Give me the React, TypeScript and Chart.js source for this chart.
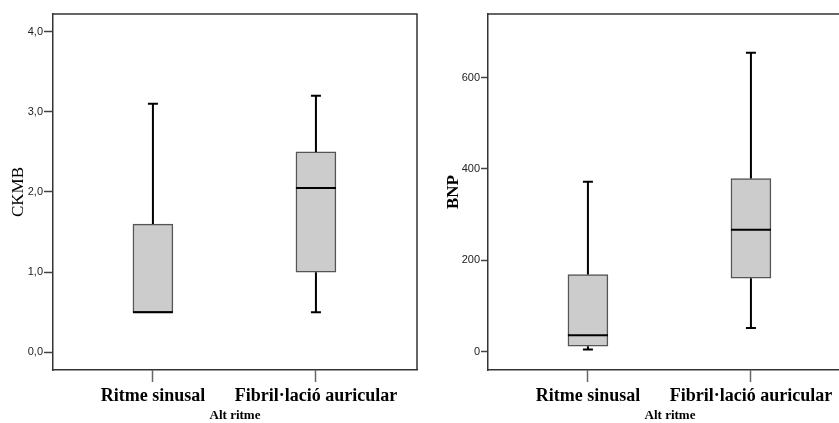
import React, { useEffect, useRef } from "react";
import { Chart, registerables } from "chart.js";

Chart.register(...registerables);

const categories = ["Ritme sinusal", "Fibril·lació auricular"];

const ckmbMin = [0.5, 0.5];
const ckmbQ1 = [0.5, 1.0];
const ckmbMedian = [0.5, 2.05];
const ckmbQ3 = [1.6, 2.5];
const ckmbMax = [3.1, 3.2];
const ckmbTicks = [0, 1, 2, 3, 4];

const bnpMin = [5, 52];
const bnpQ1 = [12, 161];
const bnpMedian = [36, 267];
const bnpQ3 = [169, 379];
const bnpMax = [372, 654];
const bnpTicks = [0, 200, 400, 600];

type BoxSpec = {
  min: number[];
  q1: number[];
  med: number[];
  q3: number[];
  max: number[];
  yTicks: number[];
  yMin: number;
  yMax: number;
  yTitle: string;
  yTitleBold: boolean;
  yTitlePad: number;
  yAxisWidth: number;
  tickLen: number;
  tickPad: number;
  fmt: (v: number) => string;
  padRight: number;
};

const boxPlugin = {
  id: "boxExtras",
  afterDatasetsDraw(chart: any, _args: any, opts: any) {
    const spec: BoxSpec = opts.spec;
    const xs = chart.scales.x;
    const ys = chart.scales.y;
    const ctx = chart.ctx;
    ctx.save();
    ctx.strokeStyle = "#000";
    ctx.lineWidth = 2;
    const cap = 5;
    categories.forEach((_c, i) => {
      const x = xs.getPixelForValue(i);
      const yMin = ys.getPixelForValue(spec.min[i]);
      const yQ1 = ys.getPixelForValue(spec.q1[i]);
      const yQ3 = ys.getPixelForValue(spec.q3[i]);
      const yMax = ys.getPixelForValue(spec.max[i]);
      const yMed = ys.getPixelForValue(spec.med[i]);
      ctx.beginPath();
      if (yMax < yQ3 - 0.5) {
        ctx.moveTo(x, yQ3);
        ctx.lineTo(x, yMax);
        ctx.moveTo(x - cap, yMax);
        ctx.lineTo(x + cap, yMax);
      }
      if (yMin > yQ1 + 0.5) {
        ctx.moveTo(x, yQ1);
        ctx.lineTo(x, yMin);
        ctx.moveTo(x - cap, yMin);
        ctx.lineTo(x + cap, yMin);
      }
      ctx.stroke();
      ctx.beginPath();
      ctx.moveTo(x - 20, yMed);
      ctx.lineTo(x + 20, yMed);
      ctx.stroke();
    });
    const a = chart.chartArea;
    ctx.strokeStyle = "#333";
    ctx.lineWidth = 1.5;
    ctx.beginPath();
    ctx.moveTo(a.left, a.top);
    ctx.lineTo(a.right, a.top);
    ctx.lineTo(a.right, a.bottom);
    ctx.stroke();
    ctx.restore();
  },
};

function BoxChart({ spec, left, width }: { spec: BoxSpec; left: number; width: number }) {
  const ref = useRef<HTMLCanvasElement | null>(null);
  useEffect(() => {
    if (!ref.current) return;
    const chart = new Chart(ref.current, {
      type: "bar",
      data: {
        datasets: [
          {
            data: categories.map((_c, i) => ({ x: i, y: [spec.q1[i], spec.q3[i]] })) as any,
            backgroundColor: "#cccccc",
            borderColor: "#555555",
            borderWidth: 1.5,
            borderSkipped: false,
            barThickness: 40,
          },
        ],
      },
      options: {
        animation: false,
        responsive: false,
        layout: { padding: { top: 14, right: spec.padRight, left: 0, bottom: 0 } },
        plugins: {
          legend: { display: false },
          tooltip: { enabled: false },
          boxExtras: { spec },
        } as any,
        scales: {
          x: {
            type: "linear",
            offset: false,
            min: -0.613,
            max: 1.62,
            afterBuildTicks: (s: any) => {
              s.ticks = categories.map((_c, i) => ({ value: i }));
            },
            afterFit: (s: any) => {
              s.height = 53;
            },
            ticks: {
              callback: (v: any) => categories[Number(v)] ?? "",
              color: "#000",
              font: { family: "'Liberation Serif', 'Times New Roman', serif", size: 18, weight: "bold" },
              padding: 4,
              maxRotation: 0,
              autoSkip: false,
            },
            grid: {
              offset: false,
              drawOnChartArea: false,
              drawTicks: true,
              tickLength: 12,
              tickWidth: 1.5,
              tickColor: "#666",
            },
            border: { display: true, color: "#333", width: 1.5 },
            title: {
              display: true,
              text: "Alt ritme",
              color: "#000",
              font: { family: "'Liberation Serif', 'Times New Roman', serif", size: 13, weight: "bold" },
              padding: { top: 0, bottom: 0 },
            },
          },
          y: {
            type: "linear",
            min: spec.yMin,
            max: spec.yMax,
            afterBuildTicks: (s: any) => {
              s.ticks = spec.yTicks.map((v) => ({ value: v }));
            },
            afterFit: (s: any) => {
              s.width = spec.yAxisWidth;
            },
            ticks: {
              callback: (v: any) => spec.fmt(Number(v)),
              color: "#222",
              font: { family: "'Liberation Sans', Arial, sans-serif", size: 11 },
              padding: spec.tickPad,
            },
            grid: {
              drawOnChartArea: false,
              drawTicks: true,
              tickLength: spec.tickLen,
              tickWidth: 1.5,
              tickColor: "#444",
            },
            border: { display: true, color: "#333", width: 1.5 },
            title: {
              display: true,
              text: spec.yTitle,
              color: "#000",
              font: {
                family: "'Liberation Serif', 'Times New Roman', serif",
                size: 17,
                weight: spec.yTitleBold ? "bold" : "normal",
              },
              padding: { top: spec.yTitlePad, bottom: 0 },
            },
          },
        },
      },
      plugins: [boxPlugin],
    } as any);
    return () => chart.destroy();
  }, [spec]);
  return (
    <canvas
      ref={ref}
      width={width}
      height={423}
      style={{ position: "absolute", left, top: 0, width, height: 423 }}
    />
  );
}

const ckmbSpec: BoxSpec = {
  min: ckmbMin,
  q1: ckmbQ1,
  med: ckmbMedian,
  q3: ckmbQ3,
  max: ckmbMax,
  yTicks: ckmbTicks,
  yMin: -0.22,
  yMax: 4.22,
  yTitle: "CKMB",
  yTitleBold: false,
  yTitlePad: 8,
  yAxisWidth: 53,
  tickLen: 9,
  tickPad: 1,
  fmt: (v) => v.toFixed(1).replace(".", ","),
  padRight: 3,
};

const bnpSpec: BoxSpec = {
  min: bnpMin,
  q1: bnpQ1,
  med: bnpMedian,
  q3: bnpQ3,
  max: bnpMax,
  yTicks: bnpTicks,
  yMin: -40,
  yMax: 739,
  yTitle: "BNP",
  yTitleBold: true,
  yTitlePad: 23,
  yAxisWidth: 68,
  tickLen: 7,
  tickPad: 1,
  fmt: (v) => String(v),
  padRight: 8,
};

export default function App() {
  return (
    <div
      style={{
        position: "fixed",
        left: 0,
        top: 0,
        width: 839,
        height: 423,
        overflow: "hidden",
        background: "#fff",
      }}
    >
      <BoxChart spec={ckmbSpec} left={0} width={420} />
      <BoxChart spec={bnpSpec} left={420} width={440} />
    </div>
  );
}
